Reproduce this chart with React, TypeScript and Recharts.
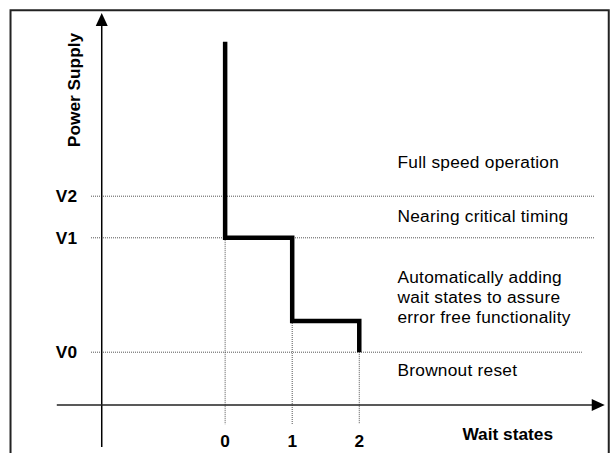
import { ComposedChart, Line, XAxis, YAxis, ReferenceLine, ReferenceDot, ReferenceArea, Label } from 'recharts'

// x axis: number of wait states
const waitStates = [0, 1, 2]

// supply thresholds (arbitrary units, x-axis = 0)
const thresholdNames = ['V0', 'V1', 'V2']
const thresholdLevels = [1.32, 4.18, 5.22]

// operating curve: wait states inserted as the supply drops
const curveX = [0, 0, 1, 1, 2, 2]
const curveY = [9.08, 4.18, 4.18, 2.1, 2.1, 1.32]

// region descriptions on the right side, first-line baseline level
const regionText = [
  ['Full speed operation'],
  ['Nearing critical timing'],
  ['Automatically adding', 'wait states to assure', 'error free functionality'],
  ['Brownout reset'],
]
const regionLevels = [5.93, 4.58, 3.05, 0.73]

const curve = curveX.map((x, i) => ({ x, y: curveY[i] }))

const FONT = '"Liberation Sans", Arial, sans-serif'
const DOT = '#555'

const W = 614
const H = 453

function ArrowUp(p: any) {
  const { cx, cy } = p
  return <path d={`M${cx},${cy} L${cx - 6},${cy + 13} L${cx + 6},${cy + 13} Z`} fill="#000" />
}

function ArrowRight(p: any) {
  const { cx, cy } = p
  return <path d={`M${cx},${cy} L${cx - 13},${cy - 6} L${cx - 13},${cy + 6} Z`} fill="#000" />
}

function RegionLabel(lines: string[]) {
  return (p: any) => (
    <text x={p.cx} y={p.cy} fontFamily={FONT} fontSize={17.3} letterSpacing={0.25} fill="#000">
      {lines.map((t, i) => (
        <tspan key={t} x={p.cx} dy={i === 0 ? 0 : 20}>
          {t}
        </tspan>
      ))}
    </text>
  )
}

export default function App() {
  const xMin = -2
  const xMax = 5.5
  return (
    <div style={{ position: 'absolute', left: 0, top: 0, width: W, height: H, background: '#fff' }}>
      <ComposedChart width={W} height={H} data={curve} margin={{ top: 5, right: 20, bottom: 0, left: 0 }}>
        <XAxis
          dataKey="x"
          type="number"
          domain={[xMin, xMax]}
          ticks={waitStates}
          axisLine={false}
          tickLine={false}
          tickSize={0}
          tickMargin={30}
          height={48}
          tick={{ fontFamily: FONT, fontSize: 17.3, fontWeight: 'bold', fill: '#000' }}
        >
          <Label
            value="Wait states"
            position="insideRight"
            offset={41}
            dy={5}
            fontFamily={FONT}
            fontSize={17.3}
            fontWeight="bold"
            fill="#000"
          />
        </XAxis>
        <YAxis
          type="number"
          domain={[0, 10]}
          ticks={thresholdLevels}
          tickFormatter={(v: number) => thresholdNames[thresholdLevels.indexOf(v)]}
          axisLine={false}
          tickLine={false}
          tickSize={0}
          tickMargin={14}
          width={91}
          tick={{ fontFamily: FONT, fontSize: 17.3, fontWeight: 'bold', fill: '#000' }}
        >
          <Label
            content={(p: any) => {
              const cx = p.viewBox.x + 74
              const cy = p.viewBox.y + 85
              return (
                <text
                  x={cx}
                  y={cy}
                  transform={`rotate(-90 ${cx} ${cy})`}
                  textAnchor="middle"
                  dominantBaseline="central"
                  fontFamily={FONT}
                  fontSize={17.3}
                  fontWeight="bold"
                  fill="#000"
                >
                  Power Supply
                </text>
              )
            }}
          />
        </YAxis>

        {/* frame around the figure (bottom edge falls off the canvas) */}
        <ReferenceArea
          x1={-3.2}
          x2={5.72}
          y1={-1.5}
          y2={9.87}
          fill="none"
          fillOpacity={0}
          stroke="#222"
          strokeWidth={2}
          ifOverflow="visible"
        />

        {/* threshold levels */}
        <ReferenceLine
          segment={[{ x: xMin, y: thresholdLevels[2] }, { x: xMax, y: thresholdLevels[2] }]}
          stroke={DOT}
          strokeDasharray="1 1"
          ifOverflow="visible"
        />
        <ReferenceLine
          segment={[{ x: xMin, y: thresholdLevels[1] }, { x: xMax, y: thresholdLevels[1] }]}
          stroke={DOT}
          strokeDasharray="1 1"
          ifOverflow="visible"
        />
        <ReferenceLine
          segment={[{ x: xMin, y: thresholdLevels[0] }, { x: 5.32, y: thresholdLevels[0] }]}
          stroke={DOT}
          strokeDasharray="1 1"
          ifOverflow="visible"
        />

        {/* drop lines from each step down past the axis */}
        {waitStates.map((w, i) => (
          <ReferenceLine
            key={w}
            segment={[{ x: w, y: curveY[i * 2 + 1] }, { x: w, y: -0.48 }]}
            stroke={DOT}
            strokeDasharray="1 1"
            ifOverflow="visible"
          />
        ))}

        {/* axes with arrow heads */}
        <ReferenceLine
          segment={[{ x: -1.84, y: -1.05 }, { x: -1.84, y: 9.5 }]}
          stroke="#000"
          strokeWidth={1.5}
          ifOverflow="visible"
        />
        <ReferenceLine
          segment={[{ x: -2.51, y: 0 }, { x: 5.5, y: 0 }]}
          stroke="#222"
          strokeWidth={1.5}
          ifOverflow="visible"
        />
        <ReferenceDot x={-1.84} y={9.8} ifOverflow="visible" shape={ArrowUp} />
        <ReferenceDot x={5.66} y={0} ifOverflow="visible" shape={ArrowRight} />

        {regionText.map((lines, i) => (
          <ReferenceDot key={lines[0]} x={2.57} y={regionLevels[i]} ifOverflow="visible" shape={RegionLabel(lines)} />
        ))}

        <Line
          dataKey="y"
          type="linear"
          stroke="#000"
          strokeWidth={4.5}
          strokeLinejoin="miter"
          strokeLinecap="butt"
          dot={false}
          activeDot={false}
          isAnimationActive={false}
        />
      </ComposedChart>
    </div>
  )
}
